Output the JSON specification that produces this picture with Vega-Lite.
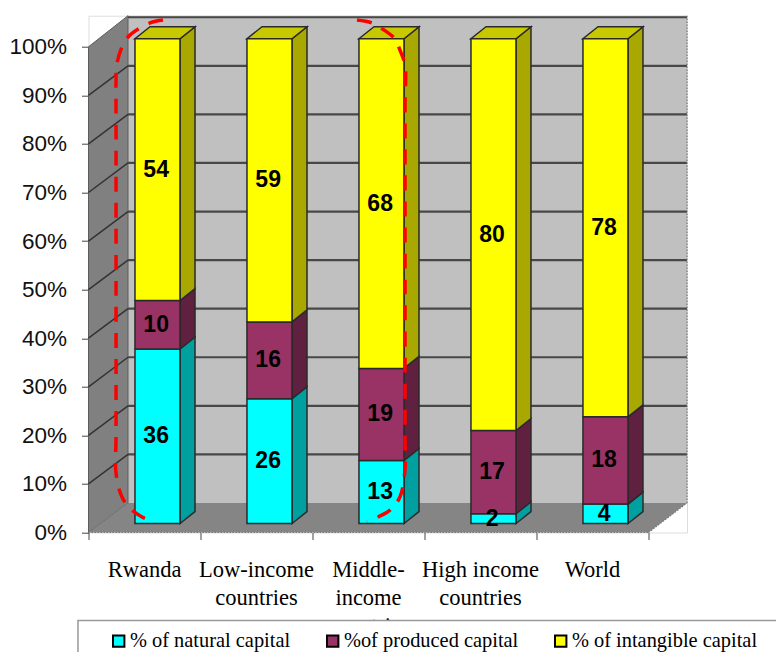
{
  "$schema": "https://vega.github.io/schema/vega-lite/v6.json",
  "autosize": {"type": "none"},
  "padding": {"left": 88.5, "top": 15.7, "right": 89, "bottom": 119.5},
  "width": 598.5,
  "height": 516.8,
  "background": "white",
  "datasets": {
    "capital": [
      {"country": "Rwanda", "order": 1, "component": "% of natural capital", "value": 36},
      {"country": "Rwanda", "order": 2, "component": "%of produced capital", "value": 10},
      {"country": "Rwanda", "order": 3, "component": "% of intangible capital", "value": 54},
      {"country": "Low-income countries", "order": 1, "component": "% of natural capital", "value": 26},
      {"country": "Low-income countries", "order": 2, "component": "%of produced capital", "value": 16},
      {"country": "Low-income countries", "order": 3, "component": "% of intangible capital", "value": 59},
      {"country": "Middle-income countries", "order": 1, "component": "% of natural capital", "value": 13},
      {"country": "Middle-income countries", "order": 2, "component": "%of produced capital", "value": 19},
      {"country": "Middle-income countries", "order": 3, "component": "% of intangible capital", "value": 68},
      {"country": "High income countries", "order": 1, "component": "% of natural capital", "value": 2},
      {"country": "High income countries", "order": 2, "component": "%of produced capital", "value": 17},
      {"country": "High income countries", "order": 3, "component": "% of intangible capital", "value": 80},
      {"country": "World", "order": 1, "component": "% of natural capital", "value": 4},
      {"country": "World", "order": 2, "component": "%of produced capital", "value": 18},
      {"country": "World", "order": 3, "component": "% of intangible capital", "value": 78}
    ],
    "ticks": [
      {"tick": 0}, {"tick": 10}, {"tick": 20}, {"tick": 30}, {"tick": 40}, {"tick": 50},
      {"tick": 60}, {"tick": 70}, {"tick": 80}, {"tick": 90}, {"tick": 100}
    ],
    "highlight": [
      {"arc": "left", "seq": 1, "u": 0.665, "p": 105.5},
      {"arc": "left", "seq": 2, "u": 0.549, "p": 104.9},
      {"arc": "left", "seq": 3, "u": 0.344, "p": 101.8},
      {"arc": "left", "seq": 4, "u": 0.254, "p": 96.6},
      {"arc": "left", "seq": 5, "u": 0.246, "p": 93.1},
      {"arc": "left", "seq": 6, "u": 0.246, "p": 85},
      {"arc": "left", "seq": 7, "u": 0.246, "p": 50},
      {"arc": "left", "seq": 8, "u": 0.246, "p": 20},
      {"arc": "left", "seq": 9, "u": 0.246, "p": 12.2},
      {"arc": "left", "seq": 10, "u": 0.299, "p": 7.3},
      {"arc": "left", "seq": 11, "u": 0.371, "p": 5.0},
      {"arc": "left", "seq": 12, "u": 0.478, "p": 3.2},
      {"arc": "left", "seq": 13, "u": 0.594, "p": 2.2},
      {"arc": "right", "seq": 1, "u": 2.397, "p": 105.5},
      {"arc": "right", "seq": 2, "u": 2.531, "p": 104.9},
      {"arc": "right", "seq": 3, "u": 2.629, "p": 103.6},
      {"arc": "right", "seq": 4, "u": 2.737, "p": 101.6},
      {"arc": "right", "seq": 5, "u": 2.781, "p": 99.3},
      {"arc": "right", "seq": 6, "u": 2.826, "p": 96.2},
      {"arc": "right", "seq": 7, "u": 2.826, "p": 88},
      {"arc": "right", "seq": 8, "u": 2.826, "p": 50},
      {"arc": "right", "seq": 9, "u": 2.826, "p": 20},
      {"arc": "right", "seq": 10, "u": 2.826, "p": 12.9},
      {"arc": "right", "seq": 11, "u": 2.781, "p": 7.3},
      {"arc": "right", "seq": 12, "u": 2.692, "p": 4.6},
      {"arc": "right", "seq": 13, "u": 2.585, "p": 3.2},
      {"arc": "right", "seq": 14, "u": 2.487, "p": 2.2}
    ]
  },
  "resolve": {"scale": {"color": "independent", "fill": "independent"}, "axis": {"x": "independent", "y": "independent"}},
  "layer": [
    {
      "description": "Back wall of the 3D box, with the percentage axes",
      "data": {"values": [{"x0": 0.3527, "x1": 5.344, "y0": 6.08, "y1": 106.4}]},
      "mark": {"type": "rect", "fill": "#c0c0c0"},
      "encoding": {
        "x": {
          "field": "x0", "type": "quantitative",
          "scale": {"domain": [0, 5.344], "nice": false, "zero": false},
          "axis": {"values": [0, 1, 2, 3, 4, 5], "labels": false, "domain": false, "grid": false, "title": null, "tickSize": 7, "tickColor": "#444", "tickWidth": 1}
        },
        "x2": {"field": "x1"},
        "y": {
          "field": "y0", "type": "quantitative",
          "scale": {"domain": [0, 106.4], "nice": false, "zero": false},
          "axis": {
            "values": [0, 10, 20, 30, 40, 50, 60, 70, 80, 90, 100],
            "labelExpr": "datum.value + '%'",
            "labelFont": "Liberation Sans", "labelFontSize": 22.5, "labelColor": "#111", "labelPadding": 15,
            "domain": false, "grid": false, "title": null, "tickSize": 7, "tickColor": "#444", "tickWidth": 1
          }
        },
        "y2": {"field": "y1"}
      }
    },
    {
      "description": "Left wall",
      "data": {"values": [{"u": 0, "lo": 0, "hi": 100}, {"u": 0.3527, "lo": 6.08, "hi": 106.4}]},
      "mark": {"type": "area", "fill": "#808080", "stroke": "#5c5c5c", "strokeWidth": 1},
      "encoding": {
        "x": {"field": "u", "type": "quantitative", "scale": {"domain": [0, 5.344], "nice": false, "zero": false}, "axis": null},
        "y": {"field": "lo", "type": "quantitative", "scale": {"domain": [0, 106.4], "nice": false, "zero": false}, "axis": null},
        "y2": {"field": "hi"}
      }
    },
    {
      "description": "Floor",
      "data": {"values": [{"p": 0, "lo": 0, "hi": 5}, {"p": 6.08, "lo": 0.3527, "hi": 5.344}]},
      "mark": {"type": "area", "orient": "horizontal", "fill": "#858585"},
      "encoding": {
        "y": {"field": "p", "type": "quantitative", "scale": {"domain": [0, 106.4], "nice": false, "zero": false}, "axis": null},
        "x": {"field": "lo", "type": "quantitative", "scale": {"domain": [0, 5.344], "nice": false, "zero": false}, "axis": null},
        "x2": {"field": "hi"}
      }
    },
    {
      "description": "Gridlines along the back wall",
      "data": {"name": "ticks"},
      "transform": [{"calculate": "datum.tick + 6.08", "as": "wall"}, {"filter": "datum.tick > 0"}],
      "mark": {"type": "rule", "stroke": "#484848", "strokeWidth": 2.2},
      "encoding": {
        "x": {"datum": 0.3527, "type": "quantitative", "scale": {"domain": [0, 5.344], "nice": false, "zero": false}, "axis": null},
        "x2": {"datum": 5.344},
        "y": {"field": "wall", "type": "quantitative", "scale": {"domain": [0, 106.4], "nice": false, "zero": false}, "axis": null}
      }
    },
    {
      "description": "Gridlines running across the left wall",
      "data": {"name": "ticks"},
      "transform": [{"calculate": "datum.tick + 6.08", "as": "wall"}, {"filter": "datum.tick > 0 && datum.tick < 100"}],
      "mark": {"type": "rule", "stroke": "#333", "strokeWidth": 1.5},
      "encoding": {
        "x": {"datum": 0, "type": "quantitative", "scale": {"domain": [0, 5.344], "nice": false, "zero": false}, "axis": null},
        "x2": {"datum": 0.3527},
        "y": {"field": "tick", "type": "quantitative", "scale": {"domain": [0, 106.4], "nice": false, "zero": false}, "axis": null},
        "y2": {"field": "wall"}
      }
    },
    {
      "description": "Dotted edges of the floor and right side of the wall",
      "data": {"values": [
        {"a": 0, "b": 5, "c": 0, "d": 0},
        {"a": 0, "b": 0.3527, "c": 0, "d": 6.08},
        {"a": 5, "b": 5.344, "c": 0, "d": 6.08},
        {"a": 5.344, "b": 5.344, "c": 6.08, "d": 106.4}
      ]},
      "mark": {"type": "rule", "stroke": "#777", "strokeWidth": 1.2, "strokeDash": [1.5, 1.5]},
      "encoding": {
        "x": {"field": "a", "type": "quantitative", "scale": {"domain": [0, 5.344], "nice": false, "zero": false}, "axis": null},
        "x2": {"field": "b"},
        "y": {"field": "c", "type": "quantitative", "scale": {"domain": [0, 106.4], "nice": false, "zero": false}, "axis": null},
        "y2": {"field": "d"}
      }
    },
    {
      "description": "Stacked 100% columns: sides, tops, fronts and value labels",
      "data": {"name": "capital"},
      "transform": [
        {"stack": "value", "groupby": ["country"], "sort": [{"field": "order", "order": "ascending"}], "offset": "normalize", "as": ["v0", "v1"]},
        {"calculate": "indexof(['Rwanda','Low-income countries','Middle-income countries','High income countries','World'], datum.country)", "as": "idx"},
        {"calculate": "datum.idx + 0.415", "as": "xL"},
        {"calculate": "datum.xL + 0.402", "as": "xR"},
        {"calculate": "1.85 + 99.8 * datum.v0", "as": "yLo"},
        {"calculate": "1.85 + 99.8 * datum.v1", "as": "yHi"}
      ],
      "resolve": {"scale": {"color": "independent", "fill": "independent"}, "axis": {"x": "independent", "y": "independent"}},
      "layer": [
        {
          "transform": [
            {"calculate": "[0, 1]", "as": "t"},
            {"flatten": ["t"]},
            {"calculate": "datum.xR + datum.t * 0.134", "as": "sx"},
            {"calculate": "datum.yLo + datum.t * 2.47", "as": "sLo"},
            {"calculate": "datum.yHi + datum.t * 2.47", "as": "sHi"}
          ],
          "mark": {"type": "area", "stroke": "#2a2a2a", "strokeWidth": 1.5},
          "encoding": {
            "x": {"field": "sx", "type": "quantitative", "scale": {"domain": [0, 5.344], "nice": false, "zero": false}, "axis": null},
            "y": {"field": "sLo", "type": "quantitative", "scale": {"domain": [0, 106.4], "nice": false, "zero": false}, "axis": null},
            "y2": {"field": "sHi"},
            "detail": {"field": "country"},
            "fill": {
              "field": "component", "type": "nominal", "legend": null,
              "scale": {"domain": ["% of natural capital", "%of produced capital", "% of intangible capital"], "range": ["#00a0a0", "#602040", "#a8a800"]}
            }
          }
        },
        {
          "transform": [
            {"filter": "datum.order === 3"},
            {"calculate": "[0, 1]", "as": "t"},
            {"flatten": ["t"]},
            {"calculate": "datum.xL + datum.t * 0.134", "as": "tL"},
            {"calculate": "datum.xR + datum.t * 0.134", "as": "tR"},
            {"calculate": "datum.yHi + datum.t * 2.47", "as": "tY"}
          ],
          "mark": {"type": "area", "orient": "horizontal", "fill": "#c8c800", "stroke": "#2a2a2a", "strokeWidth": 1.5},
          "encoding": {
            "y": {"field": "tY", "type": "quantitative", "scale": {"domain": [0, 106.4], "nice": false, "zero": false}, "axis": null},
            "x": {"field": "tL", "type": "quantitative", "scale": {"domain": [0, 5.344], "nice": false, "zero": false}, "axis": null},
            "x2": {"field": "tR"},
            "detail": {"field": "country"}
          }
        },
        {
          "mark": {"type": "rect", "stroke": "#2a2a2a", "strokeWidth": 1.5},
          "encoding": {
            "x": {"field": "xL", "type": "quantitative", "scale": {"domain": [0, 5.344], "nice": false, "zero": false}, "axis": null},
            "x2": {"field": "xR"},
            "y": {"field": "yLo", "type": "quantitative", "scale": {"domain": [0, 106.4], "nice": false, "zero": false}, "axis": null},
            "y2": {"field": "yHi"},
            "color": {
              "field": "component", "type": "nominal",
              "sort": null,
              "scale": {"domain": ["% of natural capital", "%of produced capital", "% of intangible capital"], "range": ["#00ffff", "#993366", "#ffff00"]},
              "legend": {
                "title": null, "orient": "none", "legendX": 20, "legendY": 615,
                "direction": "horizontal", "columns": 3, "columnPadding": 32, "padding": 0,
                "symbolType": "square", "symbolSize": 130, "symbolStrokeColor": "#000", "symbolStrokeWidth": 2, "symbolOpacity": 1,
                "labelFont": "Liberation Serif", "labelFontSize": 20.4, "labelColor": "#000", "labelOffset": 1, "labelLimit": 260
              }
            }
          }
        },
        {
          "transform": [
            {"calculate": "(datum.xL + datum.xR) / 2 - 0.012", "as": "xMid"},
            {"calculate": "(datum.yLo + datum.yHi) / 2", "as": "yMid"}
          ],
          "mark": {"type": "text", "font": "Liberation Sans", "fontSize": 23, "fontWeight": "bold", "color": "#000", "align": "center", "baseline": "middle"},
          "encoding": {
            "x": {"field": "xMid", "type": "quantitative", "scale": {"domain": [0, 5.344], "nice": false, "zero": false}, "axis": null},
            "y": {"field": "yMid", "type": "quantitative", "scale": {"domain": [0, 106.4], "nice": false, "zero": false}, "axis": null},
            "text": {"field": "value", "type": "quantitative"}
          }
        }
      ]
    },
    {
      "description": "Red dashed brackets around the highlighted columns",
      "data": {"name": "highlight"},
      "mark": {"type": "line", "stroke": "#ff0000", "strokeWidth": 3.5, "strokeDash": [15, 11], "interpolate": "catmull-rom"},
      "encoding": {
        "x": {"field": "u", "type": "quantitative", "scale": {"domain": [0, 5.344], "nice": false, "zero": false}, "axis": null},
        "y": {"field": "p", "type": "quantitative", "scale": {"domain": [0, 106.4], "nice": false, "zero": false}, "axis": null},
        "detail": {"field": "arc"},
        "order": {"field": "seq"}
      }
    },
    {
      "description": "Category names below the floor",
      "data": {"values": [
        {"pos": 0.5, "label": "Rwanda"},
        {"pos": 1.5, "label": "Low-income\ncountries"},
        {"pos": 2.5, "label": "Middle-\nincome\ncountries"},
        {"pos": 3.5, "label": "High income\ncountries"},
        {"pos": 4.5, "label": "World"}
      ]},
      "mark": {"type": "text", "font": "Liberation Serif", "fontSize": 22.5, "color": "#000", "align": "center", "baseline": "alphabetic", "lineBreak": "\n", "lineHeight": 28},
      "encoding": {
        "x": {"field": "pos", "type": "quantitative", "scale": {"domain": [0, 5.344], "nice": false, "zero": false}, "axis": null},
        "y": {"datum": -9.1, "type": "quantitative", "scale": {"domain": [0, 106.4], "nice": false, "zero": false}, "axis": null},
        "text": {"field": "label", "type": "nominal"}
      }
    },
    {
      "description": "Frame behind the legend",
      "data": {"values": [{"x0": -0.094, "x1": 6.3, "y0": -18.1, "y1": -30}]},
      "mark": {"type": "rect", "fill": "white", "stroke": "#999", "strokeWidth": 1.5},
      "encoding": {
        "x": {"field": "x0", "type": "quantitative", "scale": {"domain": [0, 5.344], "nice": false, "zero": false}, "axis": null},
        "x2": {"field": "x1"},
        "y": {"field": "y0", "type": "quantitative", "scale": {"domain": [0, 106.4], "nice": false, "zero": false}, "axis": null},
        "y2": {"field": "y1"}
      }
    }
  ]
}
